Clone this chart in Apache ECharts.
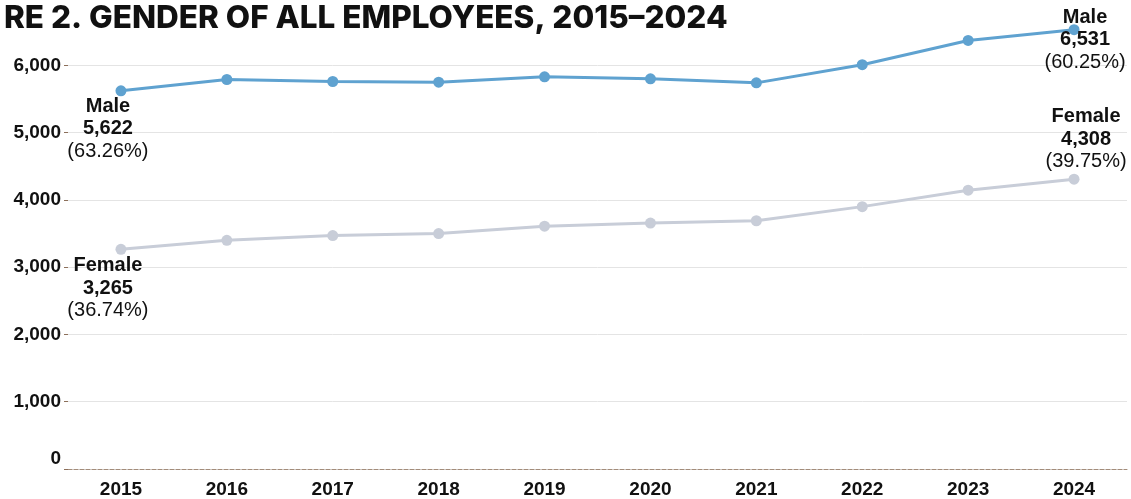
<!DOCTYPE html>
<html>
<head>
<meta charset="utf-8">
<script src="https://cdn.jsdelivr.net/npm/echarts@6/dist/echarts.min.js"></script>
<style>
  html, body { margin: 0; padding: 0; background: #ffffff; }
  #chart { width: 1131px; height: 499px; }
</style>
</head>
<body>
<div id="chart"></div>
<script>
// 数据
const years = ['2015', '2016', '2017', '2018', '2019', '2020', '2021', '2022', '2023', '2024'];
const maleValues = [5622, 5790, 5760, 5750, 5830, 5800, 5740, 6010, 6370, 6531];
const femaleValues = [3265, 3400, 3470, 3500, 3610, 3655, 3690, 3900, 4145, 4308];
const seriesNames = ['Male', 'Female'];
const titleText = 'RE 2. GENDER OF ALL EMPLOYEES, 2015\u20132024';

const fmt = v => v.toLocaleString('en-US');

// 端点标签
function endLabel(name, value, total, offset) {
  const pct = (value / total * 100).toFixed(2);
  return {
    show: true,
    position: 'inside',
    offset: offset,
    formatter: `{b|${name}}\n{b|${fmt(value)}}\n{r|(${pct}%)}`,
    rich: {
      b: { fontFamily: 'Liberation Sans', fontWeight: 'bold', fontSize: 20, lineHeight: 22.5, color: '#111111', align: 'center' },
      r: { fontFamily: 'Liberation Sans', fontSize: 20, lineHeight: 22.5, color: '#111111', align: 'center' }
    }
  };
}

function buildData(values, otherValues, name, firstOffset, lastOffset) {
  const last = values.length - 1;
  return values.map((v, i) => {
    if (i === 0) return { value: v, label: endLabel(name, v, v + otherValues[i], firstOffset) };
    if (i === last) return { value: v, label: endLabel(name, v, v + otherValues[i], lastOffset) };
    return v;
  });
}

const chart = echarts.init(document.getElementById('chart'));

const option = {
  backgroundColor: '#ffffff',
  animation: false,
  title: {
    text: titleText,
    left: -1,
    top: -2,
    textStyle: {
      fontFamily: 'Inter',
      fontWeight: 800,
      fontSize: 31.5,
      color: '#111111'
    }
  },
  grid: {
    left: 68,
    right: 4,
    top: 25,
    bottom: 28
  },
  xAxis: {
    type: 'category',
    data: years,
    boundaryGap: true,
    axisLine: {
      lineStyle: { color: '#a38c7a', type: 'dashed', width: 1 }
    },
    axisTick: { show: false },
    axisLabel: {
      margin: 11,
      color: '#111111',
      fontFamily: 'Liberation Sans',
      fontWeight: 'bold',
      fontSize: 19
    }
  },
  yAxis: {
    type: 'value',
    min: 0,
    max: 6600,
    interval: 1000,
    axisLine: { show: false },
    axisTick: {
      show: true,
      length: 4,
      lineStyle: { color: '#8c6f5a' }
    },
    axisLabel: {
      margin: 7,
      showMaxLabel: false,
      color: '#111111',
      fontFamily: 'Liberation Sans',
      fontWeight: 'bold',
      fontSize: 19,
      formatter: function(value) {
        if (value === 0) return '{z|0}';
        return fmt(value);
      },
      rich: {
        z: { fontFamily: 'Liberation Sans', fontWeight: 'bold', fontSize: 19, color: '#111111', padding: [0, 0, 20, 0] }
      }
    },
    splitLine: {
      showMaxLine: false,
      lineStyle: { color: '#e4e4e4', width: 1 }
    }
  },
  series: [
    {
      name: seriesNames[0],
      type: 'line',
      data: buildData(maleValues, femaleValues, seriesNames[0], [-13, 38], [11, 10]),
      symbol: 'circle',
      symbolSize: 11,
      itemStyle: { color: '#5fa2d0' },
      lineStyle: { color: '#5fa2d0', width: 3 },
      z: 3
    },
    {
      name: seriesNames[1],
      type: 'line',
      data: buildData(femaleValues, maleValues, seriesNames[1], [-13, 39], [12, -40]),
      symbol: 'circle',
      symbolSize: 11,
      itemStyle: { color: '#c8cdd8' },
      lineStyle: { color: '#c8cdd8', width: 3 },
      z: 2
    }
  ]
};

chart.setOption(option);
</script>
</body>
</html>
